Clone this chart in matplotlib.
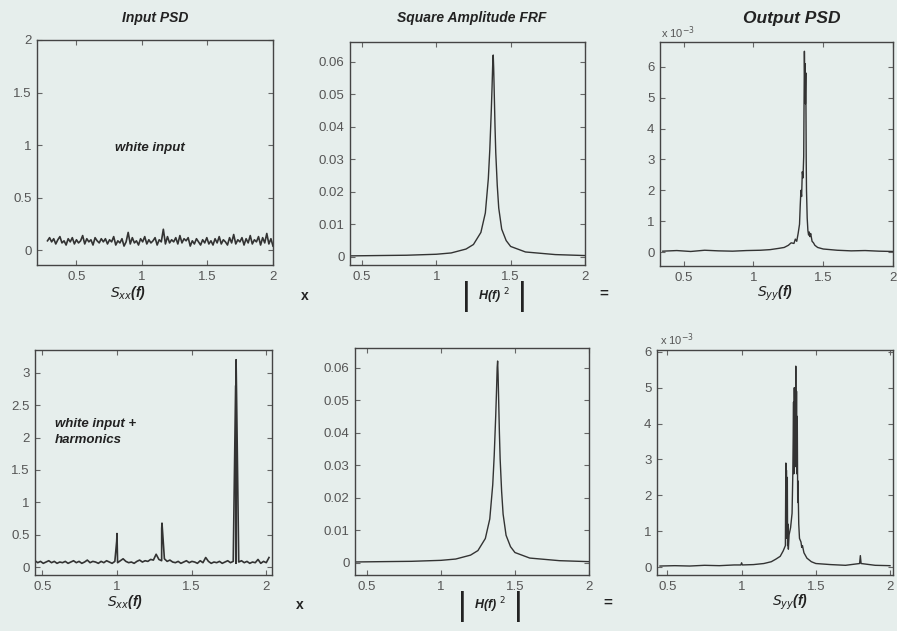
import numpy as np
import matplotlib.pyplot as plt

plt.rcParams['font.family'] = ['Liberation Sans', 'DejaVu Sans']

# ---- data ----
# white input PSD (top left), evenly sampled 0.28 .. 2.0
sxx_white = [0.09, 0.12, 0.08, 0.11, 0.06, 0.10, 0.13, 0.07, 0.09, 0.05,
             0.11, 0.08, 0.12, 0.06, 0.10, 0.07, 0.09, 0.14, 0.06, 0.11,
             0.08, 0.10, 0.05, 0.12, 0.09, 0.07, 0.11, 0.08, 0.11, 0.06,
             0.10, 0.08, 0.13, 0.05, 0.09, 0.07, 0.11, 0.04, 0.08, 0.17,
             0.06, 0.12, 0.07, 0.09, 0.05, 0.11, 0.08, 0.13, 0.06, 0.10,
             0.07, 0.09, 0.12, 0.05, 0.10, 0.08, 0.20, 0.06, 0.13, 0.07,
             0.10, 0.08, 0.12, 0.06, 0.14, 0.07, 0.11, 0.09, 0.12, 0.04,
             0.09, 0.06, 0.11, 0.08, 0.05, 0.10, 0.07, 0.12, 0.06, 0.09,
             0.05, 0.11, 0.07, 0.13, 0.06, 0.10, 0.08, 0.05, 0.12, 0.07,
             0.15, 0.06, 0.10, 0.08, 0.12, 0.05, 0.11, 0.07, 0.14, 0.06,
             0.10, 0.08, 0.13, 0.05, 0.12, 0.07, 0.16, 0.06, 0.11, 0.04]
f_white = np.linspace(0.28, 2.0, len(sxx_white))

# white input + harmonics (bottom left), evenly sampled 0.45 .. 2.02
sxx_harm_base = [0.10, 0.07, 0.09, 0.06, 0.08, 0.10, 0.07, 0.09, 0.06, 0.08,
                 0.07, 0.09, 0.06, 0.08, 0.10, 0.07, 0.09, 0.06, 0.08, 0.11,
                 0.07, 0.09, 0.08, 0.06, 0.09, 0.07, 0.10, 0.08, 0.06, 0.09,
                 0.07, 0.10, 0.13, 0.09, 0.07, 0.08, 0.06, 0.09, 0.11, 0.08,
                 0.10, 0.09, 0.12, 0.11, 0.20, 0.12, 0.10, 0.13, 0.09, 0.11,
                 0.08, 0.07, 0.09, 0.06, 0.08, 0.10, 0.07, 0.09, 0.08, 0.06,
                 0.10, 0.07, 0.15, 0.09, 0.06, 0.08, 0.07, 0.09, 0.06, 0.08,
                 0.10, 0.07, 0.09, 0.06, 0.08, 0.10, 0.07, 0.09, 0.06, 0.08,
                 0.07, 0.12, 0.06, 0.09, 0.07, 0.15]
f_harm_base = np.linspace(0.45, 2.02, len(sxx_harm_base))
harm_f = [0.998, 1.000, 1.300, 1.302, 1.796, 1.799, 1.802]
harm_v = [0.40, 0.52, 0.60, 0.68, 2.80, 3.20, 2.70]

# square amplitude FRF
frf_f = [0.42, 0.60, 0.80, 1.00, 1.10, 1.20, 1.25, 1.30, 1.33, 1.35, 1.36,
         1.37, 1.375, 1.38, 1.383, 1.386, 1.39, 1.395, 1.40, 1.41, 1.42,
         1.44, 1.47, 1.50, 1.60, 1.80, 2.00]
frf_v = [0.0003, 0.0004, 0.0005, 0.0008, 0.0012, 0.0024, 0.0038, 0.0075,
         0.0135, 0.024, 0.033, 0.045, 0.052, 0.060, 0.062, 0.058, 0.050,
         0.040, 0.032, 0.022, 0.015, 0.0085, 0.0050, 0.0032, 0.0015,
         0.0007, 0.0004]

# output PSD, white input (top right), units of 1e-3
syy_white_f = [0.35, 0.45, 0.55, 0.65, 0.75, 0.85, 0.95, 1.05, 1.12, 1.18,
               1.22, 1.25, 1.27, 1.29, 1.30, 1.31, 1.32, 1.33, 1.335, 1.34,
               1.345, 1.35, 1.355, 1.36, 1.362, 1.365, 1.368, 1.37, 1.372,
               1.375, 1.378, 1.38, 1.385, 1.39, 1.395, 1.40, 1.405, 1.41,
               1.42, 1.43, 1.44, 1.46, 1.50, 1.55, 1.60, 1.70, 1.80, 1.90, 2.00]
syy_white_v = [0.03, 0.05, 0.02, 0.06, 0.04, 0.03, 0.05, 0.06, 0.08, 0.12,
               0.15, 0.22, 0.30, 0.28, 0.42, 0.35, 0.60, 0.90, 1.50, 2.00,
               1.80, 2.60, 2.40, 3.10, 4.50, 6.50, 5.40, 6.10, 4.80, 5.80,
               3.00, 2.00, 1.10, 0.70, 0.55, 0.65, 0.50, 0.60, 0.35, 0.30,
               0.22, 0.15, 0.10, 0.08, 0.06, 0.04, 0.05, 0.03, 0.02]

# output PSD, white input + harmonics (bottom right), units of 1e-3
syy_harm_f = [0.45, 0.55, 0.65, 0.75, 0.85, 0.95, 0.995, 1.0, 1.005, 1.08,
              1.15, 1.20, 1.23, 1.26, 1.28, 1.295, 1.298, 1.30, 1.302, 1.305,
              1.308, 1.31, 1.312, 1.315, 1.32, 1.33, 1.34, 1.345, 1.35, 1.352,
              1.355, 1.358, 1.36, 1.362, 1.365, 1.368, 1.37, 1.372, 1.375,
              1.378, 1.38, 1.385, 1.39, 1.40, 1.405, 1.41, 1.42, 1.44, 1.47,
              1.50, 1.60, 1.70, 1.795, 1.80, 1.805, 1.90, 2.00]
syy_harm_v = [0.03, 0.04, 0.03, 0.05, 0.04, 0.06, 0.06, 0.12, 0.06, 0.07,
              0.10, 0.15, 0.22, 0.30, 0.45, 0.60, 2.90, 1.00, 2.70, 0.80,
              2.50, 0.60, 1.20, 0.50, 0.90, 1.10, 1.50, 2.60, 4.60, 2.60,
              5.00, 3.20, 4.80, 2.80, 5.60, 3.00, 4.90, 2.60, 4.20, 1.80,
              2.40, 1.20, 0.80, 0.70, 0.55, 0.60, 0.40, 0.25, 0.15, 0.10,
              0.07, 0.05, 0.10, 0.32, 0.10, 0.05, 0.04]

bg = '#e6eeec'
ink = '#333333'
tick_c = '#555555'

fig = plt.figure(figsize=(8.97, 6.31), dpi=100, facecolor=bg)
W, H = 897.0, 631.0


def px_axes(l, r, t, b):
    ax = fig.add_axes([l / W, 1 - b / H, (r - l) / W, (b - t) / H], facecolor=bg)
    for s in ax.spines.values():
        s.set_color('#444444')
        s.set_linewidth(1.0)
    ax.tick_params(direction='in', top=True, right=True, length=3.5,
                   width=0.8, colors='#666666', labelcolor=tick_c, labelsize=9.5,
                   pad=4)
    return ax


def ftext(x, y, s, **kw):
    fig.text(x / W, 1 - y / H, s, **kw)


bi = dict(fontweight='bold', fontstyle='italic', color='#222222')
ticks_x = [0.5, 1, 1.5, 2]
ticks_x_lab = ['0.5', '1', '1.5', '2']

# top row
ax1 = px_axes(37, 273, 40, 265)
ax1.plot(f_white, sxx_white, color=ink, lw=1.2)
ax1.set_xlim(0.2, 2.0)
ax1.set_ylim(-0.14, 2.0)
ax1.set_yticks([0, 0.5, 1, 1.5, 2])
ax1.set_yticklabels(['0', '0.5', '1', '1.5', '2'])
ax1.text(0.48, 0.52, 'white input', transform=ax1.transAxes, ha='center',
         va='center', fontsize=9.5, **bi)

ax2 = px_axes(350, 585, 42, 265)
ax2.plot(frf_f, frf_v, color=ink, lw=1.0)
ax2.set_xlim(0.42, 2.0)
ax2.set_ylim(-0.0025, 0.066)

ax3 = px_axes(660, 893, 42, 266)
ax3.plot(syy_white_f, syy_white_v, color=ink, lw=1.0)
ax3.set_xlim(0.33, 2.0)
ax3.set_ylim(-0.45, 6.8)

# bottom row
sx = np.concatenate([f_harm_base, harm_f])
sy = np.concatenate([sxx_harm_base, harm_v])
order = np.argsort(sx)
ax4 = px_axes(35, 272, 350, 575)
ax4.plot(sx[order], sy[order], color=ink, lw=1.2)
ax4.set_xlim(0.45, 2.04)
ax4.set_ylim(-0.12, 3.35)
ax4.set_yticks([0, 0.5, 1, 1.5, 2, 2.5, 3])
ax4.set_yticklabels(['0', '0.5', '1', '1.5', '2', '2.5', '3'])
ax4.text(0.085, 0.70, 'white input +\nharmonics', transform=ax4.transAxes,
         ha='left', va='top', fontsize=9.5, linespacing=1.55, **bi)

ax5 = px_axes(355, 589, 348, 575)
ax5.plot(frf_f, frf_v, color=ink, lw=1.0)
ax5.set_xlim(0.42, 2.0)
ax5.set_ylim(-0.0037, 0.066)

ax6 = px_axes(657, 893, 350, 575)
ax6.plot(syy_harm_f, syy_harm_v, color=ink, lw=1.0)
ax6.set_xlim(0.43, 2.02)
ax6.set_ylim(-0.22, 6.05)

for ax in (ax2, ax5):
    ax.set_yticks([0, 0.01, 0.02, 0.03, 0.04, 0.05, 0.06])
    ax.set_yticklabels(['0', '0.01', '0.02', '0.03', '0.04', '0.05', '0.06'])
for ax in (ax3, ax6):
    ax.set_yticks([0, 1, 2, 3, 4, 5, 6])
for ax in (ax1, ax2, ax3, ax4, ax5, ax6):
    ax.set_xticks(ticks_x)
    ax.set_xticklabels(ticks_x_lab)

# titles
ftext(155, 18, 'Input PSD', ha='center', va='center', fontsize=10, **bi)
ftext(472, 18, 'Square Amplitude FRF', ha='center', va='center', fontsize=10, **bi)
ftext(792, 18, 'Output PSD', ha='center', va='center', fontsize=12.5, **bi)
ftext(661, 33, 'x 10$^{-3}$', ha='left', va='center', fontsize=8, color=tick_c)
ftext(660, 340, 'x 10$^{-3}$', ha='left', va='center', fontsize=8, color=tick_c)

# equation row labels
for y0, xs in ((293, (128, 305, 494, 604, 775)), (602, (125, 300, 490, 608, 790))):
    ftext(xs[0], y0, '$S_{xx}$(f)', ha='center', va='center', fontsize=10, **bi)
    ftext(xs[1], y0 + 3, 'x', ha='center', va='center', fontsize=10,
          fontweight='bold', color='#222222')
    ftext(xs[2] - 28, y0 + 4, '|', ha='center', va='center', fontsize=24,
          color='#222222')
    ftext(xs[2], y0 + 3, 'H(f) $^{2}$', ha='center', va='center', fontsize=9,
          **bi)
    ftext(xs[2] + 28, y0 + 4, '|', ha='center', va='center', fontsize=24,
          color='#222222')
    ftext(xs[3], y0 + 1, '=', ha='center', va='center', fontsize=11,
          fontweight='bold', color='#222222')
    ftext(xs[4], y0, '$S_{yy}$(f)', ha='center', va='center', fontsize=10, **bi)

fig.savefig('out.png', dpi=100, facecolor=bg)
